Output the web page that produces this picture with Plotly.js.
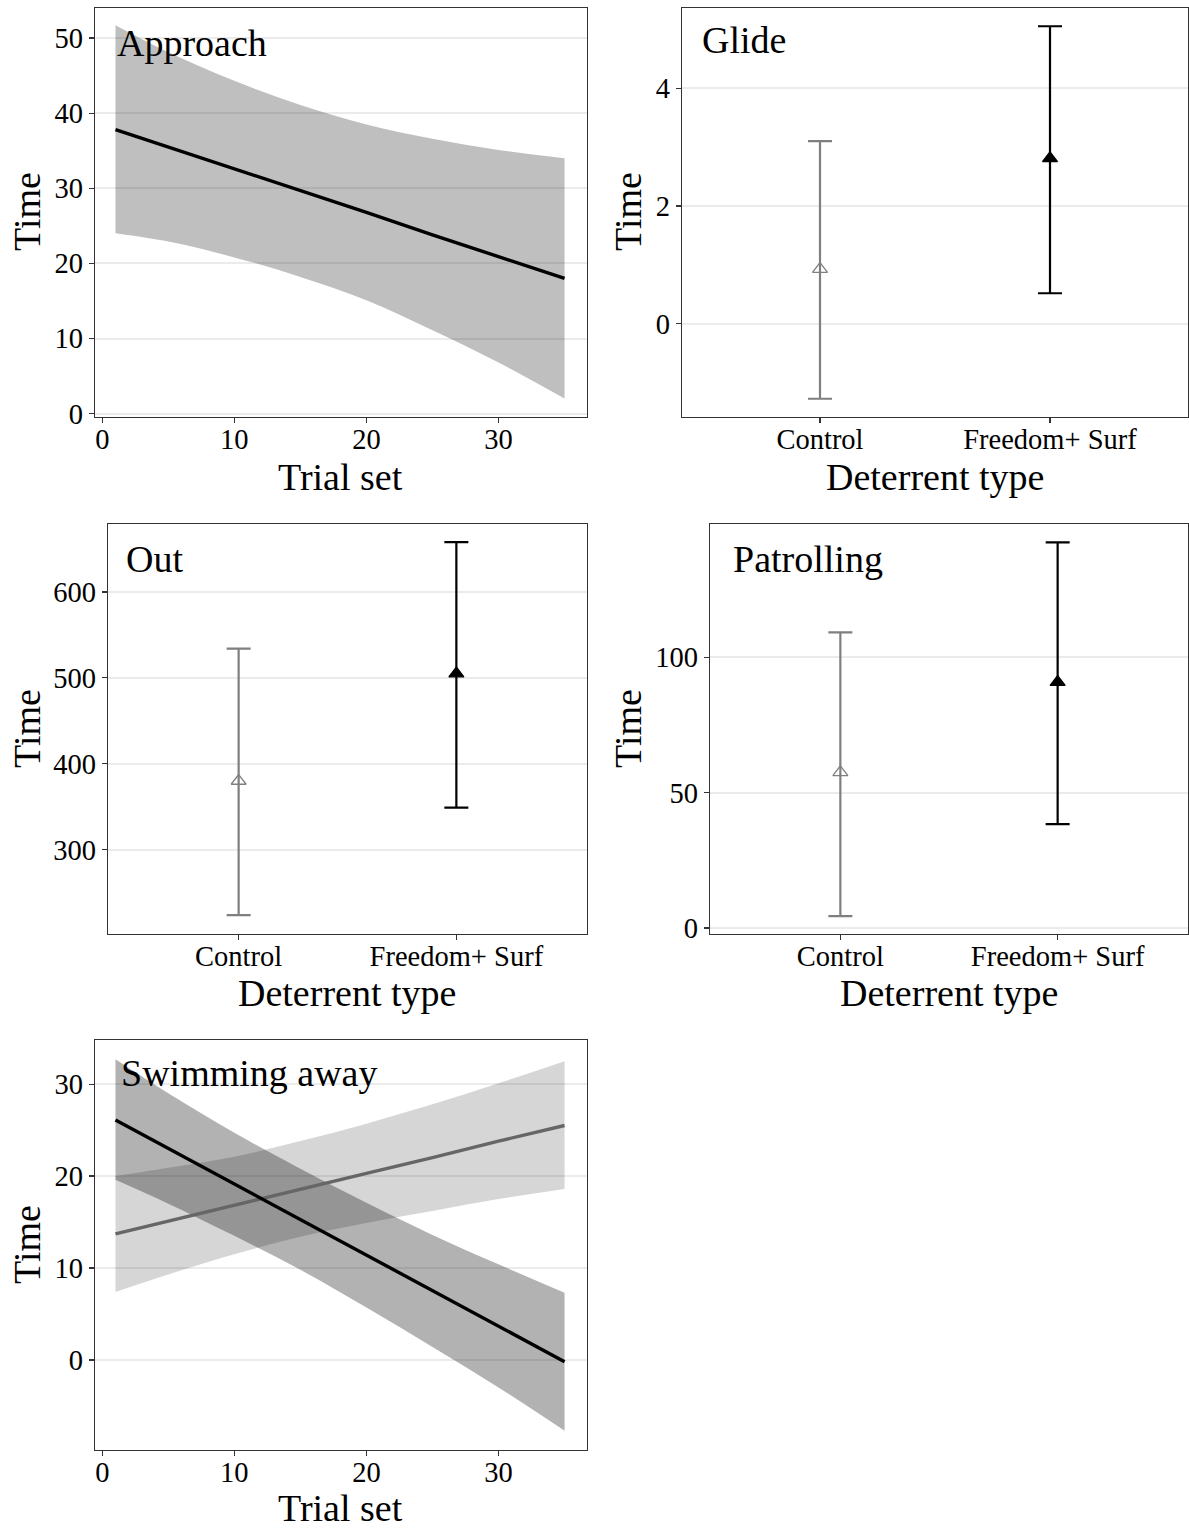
<!DOCTYPE html>
<html>
<head>
<meta charset="utf-8">
<script src="https://cdn.plot.ly/plotly-3.0.1.min.js"></script>
<style>
  html, body { margin: 0; padding: 0; background: #ffffff; }
  #chart { width: 1189px; height: 1528px; }
</style>
</head>
<body>
<div id="chart"></div>
<script>
// ---------- data ----------
const trialSet = [1, 5, 10, 15, 20, 25, 30, 35];

// Approach: fitted line and confidence band
const approachFit   = [37.8, 35.5, 32.6, 29.7, 26.8, 23.8, 20.9, 18.0];
const approachLower = [24.0, 22.9, 20.8, 18.2, 15.1, 11.1, 6.8, 2.0];
const approachUpper = [51.7, 48.1, 44.3, 41.1, 38.5, 36.6, 35.1, 34.0];

// Swimming away: Freedom+ Surf (black) and Control (grey)
const swimFreedomFit   = [26.1, 23.0, 19.1, 15.3, 11.4, 7.5, 3.7, -0.2];
const swimFreedomLower = [19.6, 17.0, 13.5, 9.8, 5.7, 1.4, -3.0, -7.7];
const swimFreedomUpper = [32.7, 29.0, 24.7, 20.8, 17.1, 13.6, 10.4, 7.3];
const swimControlFit   = [13.7, 15.1, 16.8, 18.6, 20.3, 22.0, 23.8, 25.5];
const swimControlLower = [7.4, 9.3, 11.5, 13.4, 14.9, 16.2, 17.5, 18.6];
const swimControlUpper = [20.0, 20.9, 22.1, 23.8, 25.7, 27.8, 30.1, 32.5];

// Deterrent type panels
const deterrents = ['Control', 'Freedom+ Surf'];
const glideEst   = [0.93, 2.81];
const glideLower = [-1.27, 0.52];
const glideUpper = [3.10, 5.05];
const outEst     = [380, 505];
const outLower   = [224, 349];
const outUpper   = [534, 658];
const patrolEst   = [57.5, 90.8];
const patrolLower = [4.4, 38.4];
const patrolUpper = [109.2, 142.4];

// ---------- styling ----------
const FONT = '"Liberation Serif", "Times New Roman", serif';
const W = 1189, H = 1528;
const GRID = '#ebebeb';
const BORDER = '#333333';
const CTRL = '#7f7f7f';
const TICK_SIZE = 28.5;
const TITLE_SIZE = 38;

function px(x) { return x / W; }
function py(y) { return 1 - y / H; }

function bandTraces(x, lo, hi, fill, xa, ya) {
  return [
    { x: x, y: lo, type: 'scatter', mode: 'lines', line: { width: 0, shape: 'spline' },
      hoverinfo: 'skip', showlegend: false, xaxis: xa, yaxis: ya },
    { x: x, y: hi, type: 'scatter', mode: 'lines', line: { width: 0, shape: 'spline' },
      fill: 'tonexty', fillcolor: fill, hoverinfo: 'skip', showlegend: false, xaxis: xa, yaxis: ya }
  ];
}

function lineTrace(x, y, color, xa, ya) {
  return { x: x, y: y, type: 'scatter', mode: 'lines', line: { color: color, width: 3.4 },
           showlegend: false, xaxis: xa, yaxis: ya };
}

function ciTrace(i, est, lo, hi, xa, ya) {
  const isCtrl = i === 0;
  const color = isCtrl ? CTRL : '#000000';
  return {
    x: [deterrents[i]], y: [est[i]], type: 'scatter', mode: 'markers',
    marker: { symbol: isCtrl ? 'triangle-up-open' : 'triangle-up', size: 13,
              color: color, line: { color: color, width: 1.3 } },
    error_y: { type: 'data', symmetric: false, array: [hi[i] - est[i]],
               arrayminus: [est[i] - lo[i]], color: color, thickness: 2.2, width: 12 },
    showlegend: false, xaxis: xa, yaxis: ya
  };
}

const traces = [];
// Panel 1 - Approach
traces.push(...bandTraces(trialSet, approachLower, approachUpper, 'rgba(0,0,0,0.25)', 'x', 'y'));
traces.push(lineTrace(trialSet, approachFit, '#000000', 'x', 'y'));
// Panel 2 - Glide
traces.push(ciTrace(0, glideEst, glideLower, glideUpper, 'x2', 'y2'));
traces.push(ciTrace(1, glideEst, glideLower, glideUpper, 'x2', 'y2'));
// Panel 3 - Out
traces.push(ciTrace(0, outEst, outLower, outUpper, 'x3', 'y3'));
traces.push(ciTrace(1, outEst, outLower, outUpper, 'x3', 'y3'));
// Panel 4 - Patrolling
traces.push(ciTrace(0, patrolEst, patrolLower, patrolUpper, 'x4', 'y4'));
traces.push(ciTrace(1, patrolEst, patrolLower, patrolUpper, 'x4', 'y4'));
// Panel 5 - Swimming away
traces.push(...bandTraces(trialSet, swimControlLower, swimControlUpper, 'rgba(0,0,0,0.16)', 'x5', 'y5'));
traces.push(...bandTraces(trialSet, swimFreedomLower, swimFreedomUpper, 'rgba(0,0,0,0.30)', 'x5', 'y5'));
traces.push(lineTrace(trialSet, swimControlFit, '#666666', 'x5', 'y5'));
traces.push(lineTrace(trialSet, swimFreedomFit, '#000000', 'x5', 'y5'));

function xAxis(domain, anchor, opts) {
  return Object.assign({
    domain: domain, anchor: anchor, showgrid: false, zeroline: false,
    showline: true, linecolor: BORDER, linewidth: 1.2, mirror: true,
    ticks: 'outside', ticklen: 5, tickwidth: 1.2, tickcolor: BORDER,
    ticklabelstandoff: -8,
    tickfont: { family: FONT, size: TICK_SIZE, color: '#000000' }, fixedrange: true
  }, opts);
}
function yAxis(domain, anchor, opts) {
  return Object.assign({
    domain: domain, anchor: anchor, showgrid: true, gridcolor: GRID, gridwidth: 2,
    zeroline: false, showline: true, linecolor: BORDER, linewidth: 1.2, mirror: true,
    ticks: 'outside', ticklen: 5, tickwidth: 1.2, tickcolor: BORDER,
    tickfont: { family: FONT, size: TICK_SIZE, color: '#000000' }, fixedrange: true
  }, opts);
}

const dom1x = [px(95), px(587)], dom2x = [px(682), px(1188)];
const dom3x = [px(108), px(587)], dom4x = [px(710), px(1188)];
const row1y = [py(417), py(8)], row2y = [py(934), py(524)], row3y = [py(1450), py(1040)];

const catOpts = { type: 'category', categoryorder: 'array', categoryarray: deterrents, range: [-0.6, 1.6] };

const layout = {
  width: W, height: H,
  margin: { l: 0, r: 0, t: 0, b: 0, pad: 0 },
  paper_bgcolor: '#ffffff', plot_bgcolor: '#ffffff',
  showlegend: false,
  font: { family: FONT, color: '#000000' },
  xaxis:  xAxis(dom1x, 'y',  { range: [-0.55, 36.7], tickvals: [0, 10, 20, 30] }),
  yaxis:  yAxis(row1y, 'x',  { range: [-0.45, 54.0], tickvals: [0, 10, 20, 30, 40, 50] }),
  xaxis2: xAxis(dom2x, 'y2', catOpts),
  yaxis2: yAxis(row1y, 'x2', { range: [-1.58, 5.36], tickvals: [0, 2, 4] }),
  xaxis3: xAxis(dom3x, 'y3', catOpts),
  yaxis3: yAxis(row2y, 'x3', { range: [202, 679], tickvals: [300, 400, 500, 600] }),
  xaxis4: xAxis(dom4x, 'y4', catOpts),
  yaxis4: yAxis(row2y, 'x4', { range: [-2.2, 149.2], tickvals: [0, 50, 100] }),
  xaxis5: xAxis(dom1x, 'y5', { range: [-0.55, 36.7], tickvals: [0, 10, 20, 30] }),
  yaxis5: yAxis(row3y, 'x5', { range: [-9.8, 34.8], tickvals: [0, 10, 20, 30] }),
  annotations: []
};

function ann(text, x, y, size, angle, xanchor) {
  layout.annotations.push({
    text: text, xref: 'paper', yref: 'paper', x: px(x), y: py(y),
    xanchor: xanchor || 'center', yanchor: 'middle', showarrow: false,
    textangle: angle || 0, font: { family: FONT, size: size, color: '#000000' }
  });
}

// axis titles
ann('Time', 27, 212, TITLE_SIZE, -90);
ann('Trial set', 341, 477, TITLE_SIZE);
ann('Time', 628, 212, TITLE_SIZE, -90);
ann('Deterrent type', 935, 477, TITLE_SIZE);
ann('Time', 27, 729, TITLE_SIZE, -90);
ann('Deterrent type', 347, 993, TITLE_SIZE);
ann('Time', 628, 729, TITLE_SIZE, -90);
ann('Deterrent type', 949, 993, TITLE_SIZE);
ann('Time', 27, 1245, TITLE_SIZE, -90);
ann('Trial set', 341, 1508, TITLE_SIZE);

// panel labels
ann('Approach', 115, 43, TITLE_SIZE, 0, 'left');
ann('Glide', 700, 40, TITLE_SIZE, 0, 'left');
ann('Out', 124, 559, TITLE_SIZE, 0, 'left');
ann('Patrolling', 731, 559, TITLE_SIZE, 0, 'left');
ann('Swimming away', 119, 1073, TITLE_SIZE, 0, 'left');

Plotly.newPlot('chart', traces, layout, { staticPlot: true, displayModeBar: false });
</script>
</body>
</html>
